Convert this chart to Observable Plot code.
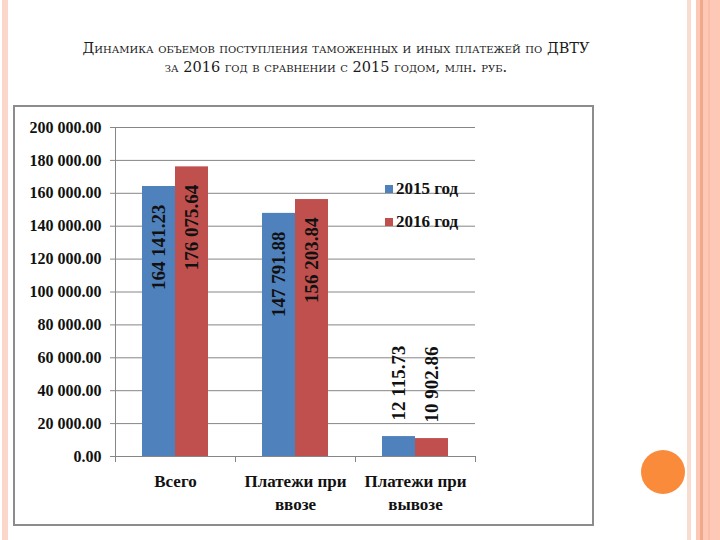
<!DOCTYPE html>
<html>
<head>
<meta charset="utf-8">
<script src="https://cdn.jsdelivr.net/npm/d3@7"></script>
<script src="https://cdn.jsdelivr.net/npm/@observablehq/plot@0.6"></script>
<style>
  html, body { margin: 0; padding: 0; background: #fff; }
  #page { position: relative; width: 720px; height: 540px; overflow: hidden; background: #fff; }
  .stripe { position: absolute; top: 0; height: 540px; }
  #circle { position: absolute; left: 641px; top: 450px; width: 44px; height: 44px; border-radius: 50%; background: #f98b3b; }
  #title { position: absolute; left: 0; top: 39px; width: 672px; text-align: center;
           font-family: "DejaVu Serif", serif; font-variant: small-caps; font-size: 14.5px;
           line-height: 19px; color: #1a1a1a; }
  #box { position: absolute; left: 13px; top: 105px; width: 577px; height: 417px;
         border: 2px solid #8c8c8c; background: #fff; }
  #chart { position: absolute; left: 0; top: 0; }
  #legend { position: absolute; left: 370px; top: 65px; font-family: "Liberation Serif", serif;
            font-weight: bold; font-size: 17px; color: #111; }
  .item { display: flex; align-items: center; height: 33px; }
  .sw { width: 8px; height: 8px; margin-right: 3px; }
</style>
</head>
<body>
<div id="page">
  <div class="stripe" style="left:2px;width:6px;background:#fbd6ca;"></div>
  <div class="stripe" style="left:687px;width:4px;background:#f9dccf;"></div>
  <div class="stripe" style="left:696px;width:24px;background:#fdc8b5;"></div>
  <div class="stripe" style="left:700px;width:3px;background:#f1a98b;"></div>
  <div class="stripe" style="left:708px;width:2px;background:#fbbfa9;"></div>
  <div id="circle"></div>
  <div id="title">Динамика объемов поступления таможенных и иных платежей по ДВТУ<br>за 2016 год в сравнении с 2015 годом, млн. руб.</div>
  <div id="box">
    <div id="chart"></div>
    <div id="legend"></div>
  </div>
</div>
<script>
const categories = ["Всего", "Платежи при ввозе", "Платежи при вывозе"];
const years = ["2015 год", "2016 год"];
const values2015 = [164141.23, 147791.88, 12115.73];
const values2016 = [176075.64, 156203.84, 10902.86];
const colors = ["#4f81bd", "#c0504d"];
const yTicks = [0, 20000, 40000, 60000, 80000, 100000, 120000, 140000, 160000, 180000, 200000];

const data = [];
categories.forEach((c, i) => {
  data.push({category: c, year: years[0], value: values2015[i]});
  data.push({category: c, year: years[1], value: values2016[i]});
});

const ru = d3.formatLocale({decimal: ".", thousands: " ", grouping: [3], currency: ["", ""]});
const fmt = ru.format(",.2f");

const W = 577, H = 417, mL = 100, mR = 117, mT = 20, mB = 68;
const plotH = H - mT - mB;
const gray = "#868686";

const plot = Plot.plot({
  width: W, height: H,
  marginLeft: mL, marginRight: mR, marginTop: mT, marginBottom: mB,
  style: {fontFamily: "Liberation Serif", fontWeight: "bold", fontSize: "16px", color: "#111", background: "transparent"},
  fx: {domain: categories, padding: 0, label: null, axis: null},
  x: {domain: years, paddingInner: 0, paddingOuter: 0.79, axis: null},
  y: {domain: [0, 200000], label: null},
  color: {domain: years, range: colors},
  marks: [
    Plot.gridY(yTicks, {stroke: gray, strokeOpacity: 1}),
    Plot.axisY(yTicks, {tickFormat: fmt, tickSize: 5, tickPadding: 9, stroke: gray, fill: "#111", fontSize: 16, label: null}),
    Plot.axisFx({anchor: "bottom", tickSize: 0, tickPadding: 14, fontSize: 17, fill: "#111", label: null,
                 tickFormat: d => d.replace(" при ", " при\n"), lineHeight: 1.35}),
    Plot.barY(data, {fx: "category", x: "year", y: "value", fill: "year"}),
    Plot.frame({anchor: "left", facetAnchor: "left", stroke: gray}),
    Plot.ruleY([0], {stroke: gray}),
    Plot.frame({anchor: "left", insetTop: plotH, insetBottom: -5, stroke: gray}),
    Plot.frame({anchor: "right", facetAnchor: "right", insetTop: plotH, insetBottom: -5, stroke: gray}),
    Plot.text(data.filter(d => d.value > 50000), {
      fx: "category", x: "year", y: "value", text: d => fmt(d.value),
      rotate: -90, textAnchor: "end", dy: 18, fontSize: 19, fontWeight: "bold", fill: "#111"
    }),
    Plot.text(data.filter(d => d.value <= 50000), {
      fx: "category", x: "year", y: "value", text: d => fmt(d.value),
      rotate: -90, textAnchor: "start", dy: -16, fontSize: 19, fontWeight: "bold", fill: "#111"
    })
  ]
});
document.getElementById("chart").appendChild(plot);

const legend = document.getElementById("legend");
years.forEach((y, i) => {
  const row = document.createElement("div");
  row.className = "item";
  const sw = document.createElement("span");
  sw.className = "sw";
  sw.style.background = colors[i];
  const t = document.createElement("span");
  t.textContent = y;
  row.appendChild(sw);
  row.appendChild(t);
  legend.appendChild(row);
});
</script>
</body>
</html>
